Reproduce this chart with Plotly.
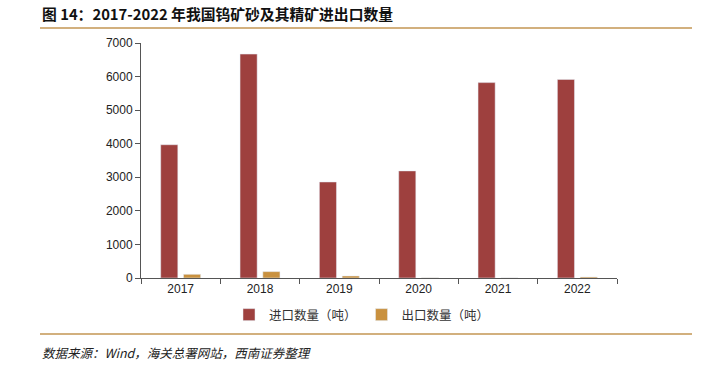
import plotly.graph_objects as go

years = ["2017", "2018", "2019", "2020", "2021", "2022"]
imports = [3970, 6670, 2860, 3190, 5820, 5915]
exports = [110, 190, 60, 5, 3, 30]
y_ticks = [0, 1000, 2000, 3000, 4000, 5000, 6000, 7000]

W, H = 717, 370
L, R, T, B = 141, 617, 43, 278
pw, ph = R - L, B - T

def px(x):
    return (x - L) / pw

def py(y):
    return (B - y) / ph

fig = go.Figure()
fig.add_trace(go.Bar(x=years, y=imports, name="进口数量（吨）", marker_color="#9E403E"))
fig.add_trace(go.Bar(x=years, y=exports, name="出口数量（吨）", marker_color="#C9913F"))

axis_color = "#555555"
fig.update_layout(
    width=W, height=H,
    margin=dict(l=L, r=W - R, t=T, b=H - B),
    plot_bgcolor="white", paper_bgcolor="white",
    barmode="group", bargap=0.425, bargroupgap=0.25,
    font=dict(family="Liberation Sans, Arial", size=12, color="#222222"),
    showlegend=True,
    legend=dict(orientation="h", x=px(362), y=py(315), xanchor="center", yanchor="middle",
                font=dict(family="Noto Sans CJK SC", size=12.5, color="#333333"),
                itemwidth=30, tracegroupgap=0, bgcolor="rgba(0,0,0,0)"),
    xaxis=dict(showline=True, linecolor=axis_color, linewidth=1, ticks="outside",
               tickson="boundaries", ticklen=5, tickcolor=axis_color, showgrid=False,
               tickfont=dict(size=12, color="#222222")),
    yaxis=dict(range=[0, 7000], tickvals=y_ticks, showline=True, linecolor=axis_color,
               linewidth=1, ticks="outside", ticklen=5, tickcolor=axis_color,
               showgrid=False, zeroline=False, tickfont=dict(size=12, color="#222222")),
)

fig.add_annotation(text="<b>图 14：2017-2022 年我国钨矿砂及其精矿进出口数量</b>",
                   xref="paper", yref="paper", x=px(40), y=py(14), xanchor="left", yanchor="middle",
                   showarrow=False, font=dict(family="Noto Sans CJK SC", size=14.8, color="#111111"))
fig.add_annotation(text="<i>数据来源：Wind，海关总署网站，西南证券整理</i>",
                   xref="paper", yref="paper", x=px(40), y=py(352), xanchor="left", yanchor="middle",
                   showarrow=False, font=dict(family="Noto Sans CJK SC", size=12.5, color="#222222"))
for yy in (28, 334):
    fig.add_shape(type="line", xref="paper", yref="paper", x0=px(40), x1=px(692), y0=py(yy), y1=py(yy),
                  line=dict(color="#D2B07E", width=2))

fig.write_html("out.html", config={"displayModeBar": False},
               post_script="document.body.style.margin='0px';document.body.style.overflow='hidden';")
